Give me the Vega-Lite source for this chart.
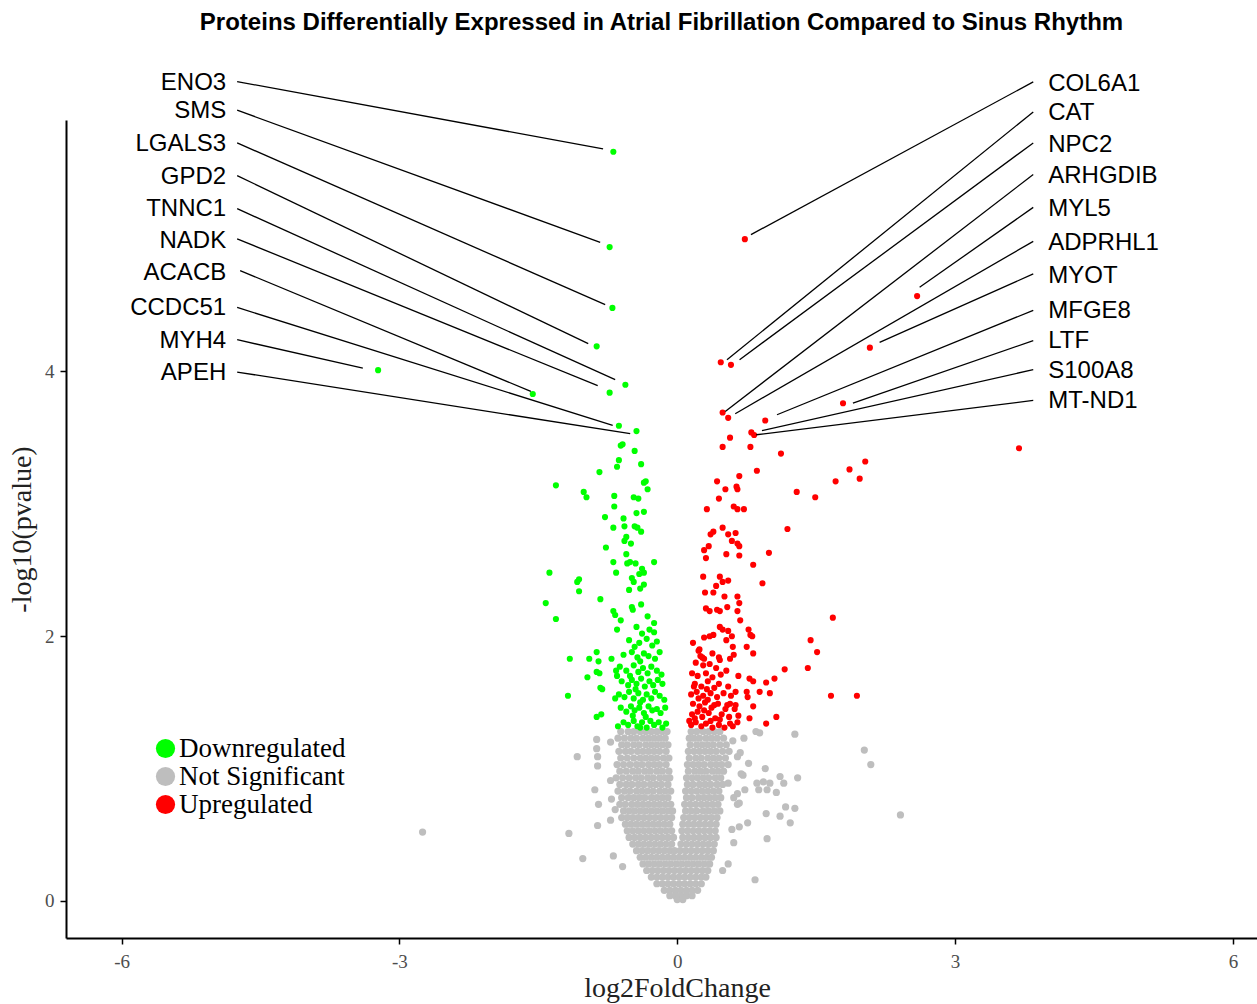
{
"$schema":"https://vega.github.io/schema/vega-lite/v6.json",
"width":1191,"height":818,
"autosize":{"type":"none"},
"padding":{"left":66,"top":120,"right":0,"bottom":66},
"background":"white",
"title":{"text":"Proteins Differentially Expressed in Atrial Fibrillation Compared to Sinus Rhythm","font":"Liberation Sans","fontWeight":"bold","fontSize":24,"color":"black","anchor":"middle","baseline":"alphabetic","offset":17},
"config":{"view":{"stroke":null},
"axis":{"grid":false,"domainColor":"black","domainWidth":2,"tickColor":"black","tickWidth":1.5,"tickSize":6,"labelFont":"Liberation Serif","labelFontSize":19,"labelColor":"#4D4D4D","titleFont":"Liberation Serif","titleFontSize":28,"titleFontWeight":"normal","titleColor":"#222222"},
"legend":{"orient":"none","legendX":86,"legendY":615,"title":null,"symbolType":"circle","symbolSize":370,"symbolOpacity":1,"symbolStrokeWidth":0,"labelFont":"Liberation Serif","labelFontSize":27,"labelColor":"black","labelOffset":0,"labelLimit":0,"rowPadding":0,"padding":0}},
"datasets":{
"ns":[{"x":-1.08,"y":1.09},{"x":-0.87,"y":1.22},{"x":-0.87,"y":1.15},{"x":-0.86,"y":1.09},{"x":-0.86,"y":1.02},{"x":-0.89,"y":0.84},{"x":-0.85,"y":0.73},{"x":-0.86,"y":0.57},{"x":-1.17,"y":0.51},{"x":-1.02,"y":0.32},{"x":-0.69,"y":0.34},{"x":-0.59,"y":0.26},{"x":-0.72,"y":0.61},{"x":-0.71,"y":0.77},{"x":-0.67,"y":0.69},{"x":-0.72,"y":0.91},{"x":-0.72,"y":1.20},{"x":-2.75,"y":0.52},{"x":1.27,"y":1.26},{"x":2.02,"y":1.14},{"x":2.09,"y":1.03},{"x":0.95,"y":1.00},{"x":0.77,"y":1.04},{"x":1.11,"y":0.94},{"x":1.15,"y":0.89},{"x":1.30,"y":0.93},{"x":0.86,"y":0.89},{"x":0.93,"y":0.90},{"x":1.00,"y":0.89},{"x":0.88,"y":0.84},{"x":0.97,"y":0.84},{"x":1.07,"y":0.82},{"x":0.73,"y":0.84},{"x":0.65,"y":0.81},{"x":0.61,"y":0.78},{"x":0.67,"y":0.74},{"x":0.65,"y":0.73},{"x":1.17,"y":0.71},{"x":1.27,"y":0.70},{"x":0.96,"y":0.66},{"x":1.11,"y":0.64},{"x":1.22,"y":0.59},{"x":0.76,"y":0.59},{"x":0.67,"y":0.56},{"x":0.59,"y":0.54},{"x":0.97,"y":0.47},{"x":0.61,"y":0.44},{"x":0.55,"y":0.28},{"x":0.49,"y":0.23},{"x":0.84,"y":0.16},{"x":2.41,"y":0.65},{"x":0.85,"y":1.28},{"x":0.89,"y":1.27},{"x":0.72,"y":1.23},{"x":0.60,"y":1.21},{"x":0.68,"y":1.12},{"x":0.65,"y":1.09},{"x":0.69,"y":0.96},{"x":0.71,"y":0.95},{"x":0.55,"y":0.89},
{"x":-0.61,"y":1.28},{"x":-0.53,"y":1.28},{"x":-0.47,"y":1.28},{"x":-0.40,"y":1.28},{"x":-0.34,"y":1.28},{"x":-0.28,"y":1.28},{"x":-0.22,"y":1.28},{"x":-0.16,"y":1.28},{"x":-0.11,"y":1.28},{"x":0.15,"y":1.28},{"x":0.21,"y":1.28},{"x":0.28,"y":1.28},{"x":0.34,"y":1.28},{"x":0.40,"y":1.28},{"x":0.46,"y":1.28},
{"x":-0.64,"y":1.23},{"x":-0.57,"y":1.23},{"x":-0.50,"y":1.23},{"x":-0.44,"y":1.23},{"x":-0.37,"y":1.23},{"x":-0.31,"y":1.23},{"x":-0.25,"y":1.23},{"x":-0.19,"y":1.23},{"x":-0.13,"y":1.23},{"x":0.13,"y":1.23},{"x":0.18,"y":1.23},{"x":0.24,"y":1.23},{"x":0.31,"y":1.23},{"x":0.37,"y":1.23},{"x":0.43,"y":1.23},{"x":0.50,"y":1.23},
{"x":-0.60,"y":1.18},{"x":-0.54,"y":1.18},{"x":-0.47,"y":1.18},{"x":-0.41,"y":1.18},{"x":-0.34,"y":1.18},{"x":-0.28,"y":1.18},{"x":-0.22,"y":1.18},{"x":-0.16,"y":1.18},{"x":-0.10,"y":1.18},{"x":0.14,"y":1.18},{"x":0.21,"y":1.18},{"x":0.27,"y":1.18},{"x":0.33,"y":1.18},{"x":0.39,"y":1.18},{"x":0.46,"y":1.18},{"x":0.53,"y":1.18},
{"x":-0.63,"y":1.13},{"x":-0.56,"y":1.13},{"x":-0.50,"y":1.13},{"x":-0.43,"y":1.13},{"x":-0.37,"y":1.13},{"x":-0.31,"y":1.13},{"x":-0.25,"y":1.13},{"x":-0.19,"y":1.13},{"x":-0.12,"y":1.13},{"x":0.12,"y":1.13},{"x":0.18,"y":1.13},{"x":0.24,"y":1.13},{"x":0.30,"y":1.13},{"x":0.36,"y":1.13},{"x":0.42,"y":1.13},{"x":0.49,"y":1.13},{"x":0.56,"y":1.13},
{"x":-0.61,"y":1.08},{"x":-0.54,"y":1.08},{"x":-0.47,"y":1.08},{"x":-0.40,"y":1.08},{"x":-0.34,"y":1.08},{"x":-0.28,"y":1.08},{"x":-0.22,"y":1.08},{"x":-0.15,"y":1.08},{"x":-0.09,"y":1.08},{"x":0.13,"y":1.08},{"x":0.20,"y":1.08},{"x":0.26,"y":1.08},{"x":0.33,"y":1.08},{"x":0.39,"y":1.08},{"x":0.45,"y":1.08},{"x":0.52,"y":1.08},
{"x":-0.65,"y":1.03},{"x":-0.58,"y":1.03},{"x":-0.51,"y":1.03},{"x":-0.44,"y":1.03},{"x":-0.38,"y":1.03},{"x":-0.31,"y":1.03},{"x":-0.25,"y":1.03},{"x":-0.19,"y":1.03},{"x":-0.12,"y":1.03},{"x":0.11,"y":1.03},{"x":0.17,"y":1.03},{"x":0.23,"y":1.03},{"x":0.29,"y":1.03},{"x":0.36,"y":1.03},{"x":0.42,"y":1.03},{"x":0.48,"y":1.03},{"x":0.55,"y":1.03},
{"x":-0.62,"y":0.98},{"x":-0.55,"y":0.98},{"x":-0.48,"y":0.98},{"x":-0.42,"y":0.98},{"x":-0.35,"y":0.98},{"x":-0.29,"y":0.98},{"x":-0.22,"y":0.98},{"x":-0.16,"y":0.98},{"x":-0.09,"y":0.98},{"x":0.12,"y":0.98},{"x":0.19,"y":0.98},{"x":0.25,"y":0.98},{"x":0.31,"y":0.98},{"x":0.38,"y":0.98},{"x":0.44,"y":0.98},{"x":0.50,"y":0.98},
{"x":-0.66,"y":0.93},{"x":-0.59,"y":0.93},{"x":-0.52,"y":0.93},{"x":-0.45,"y":0.93},{"x":-0.39,"y":0.93},{"x":-0.32,"y":0.93},{"x":-0.26,"y":0.93},{"x":-0.19,"y":0.93},{"x":-0.13,"y":0.93},{"x":-0.08,"y":0.93},{"x":0.10,"y":0.93},{"x":0.16,"y":0.93},{"x":0.22,"y":0.93},{"x":0.28,"y":0.93},{"x":0.34,"y":0.93},{"x":0.41,"y":0.93},{"x":0.47,"y":0.93},
{"x":-0.62,"y":0.88},{"x":-0.55,"y":0.88},{"x":-0.49,"y":0.88},{"x":-0.42,"y":0.88},{"x":-0.36,"y":0.88},{"x":-0.29,"y":0.88},{"x":-0.23,"y":0.88},{"x":-0.17,"y":0.88},{"x":-0.10,"y":0.88},{"x":0.11,"y":0.88},{"x":0.17,"y":0.88},{"x":0.24,"y":0.88},{"x":0.30,"y":0.88},{"x":0.36,"y":0.88},{"x":0.43,"y":0.88},{"x":0.49,"y":0.88},
{"x":-0.64,"y":0.83},{"x":-0.57,"y":0.83},{"x":-0.51,"y":0.83},{"x":-0.44,"y":0.83},{"x":-0.38,"y":0.83},{"x":-0.32,"y":0.83},{"x":-0.26,"y":0.83},{"x":-0.19,"y":0.83},{"x":-0.13,"y":0.83},{"x":-0.07,"y":0.83},{"x":0.09,"y":0.83},{"x":0.15,"y":0.83},{"x":0.21,"y":0.83},{"x":0.27,"y":0.83},{"x":0.33,"y":0.83},{"x":0.39,"y":0.83},{"x":0.45,"y":0.83},
{"x":-0.60,"y":0.78},{"x":-0.53,"y":0.78},{"x":-0.47,"y":0.78},{"x":-0.41,"y":0.78},{"x":-0.35,"y":0.78},{"x":-0.28,"y":0.78},{"x":-0.22,"y":0.78},{"x":-0.16,"y":0.78},{"x":-0.10,"y":0.78},{"x":0.10,"y":0.78},{"x":0.16,"y":0.78},{"x":0.23,"y":0.78},{"x":0.29,"y":0.78},{"x":0.35,"y":0.78},{"x":0.41,"y":0.78},{"x":0.47,"y":0.78},
{"x":-0.62,"y":0.73},{"x":-0.56,"y":0.73},{"x":-0.49,"y":0.73},{"x":-0.43,"y":0.73},{"x":-0.37,"y":0.73},{"x":-0.31,"y":0.73},{"x":-0.25,"y":0.73},{"x":-0.19,"y":0.73},{"x":-0.13,"y":0.73},{"x":-0.07,"y":0.73},{"x":0.08,"y":0.73},{"x":0.14,"y":0.73},{"x":0.20,"y":0.73},{"x":0.26,"y":0.73},{"x":0.32,"y":0.73},{"x":0.38,"y":0.73},{"x":0.44,"y":0.73},
{"x":-0.58,"y":0.68},{"x":-0.52,"y":0.68},{"x":-0.46,"y":0.68},{"x":-0.40,"y":0.68},{"x":-0.34,"y":0.68},{"x":-0.28,"y":0.68},{"x":-0.22,"y":0.68},{"x":-0.16,"y":0.68},{"x":-0.10,"y":0.68},{"x":-0.05,"y":0.68},{"x":0.09,"y":0.68},{"x":0.15,"y":0.68},{"x":0.21,"y":0.68},{"x":0.28,"y":0.68},{"x":0.34,"y":0.68},{"x":0.40,"y":0.68},{"x":0.46,"y":0.68},
{"x":-0.60,"y":0.63},{"x":-0.54,"y":0.63},{"x":-0.48,"y":0.63},{"x":-0.42,"y":0.63},{"x":-0.36,"y":0.63},{"x":-0.30,"y":0.63},{"x":-0.24,"y":0.63},{"x":-0.18,"y":0.63},{"x":-0.12,"y":0.63},{"x":-0.06,"y":0.63},{"x":0.07,"y":0.63},{"x":0.13,"y":0.63},{"x":0.19,"y":0.63},{"x":0.25,"y":0.63},{"x":0.31,"y":0.63},{"x":0.37,"y":0.63},{"x":0.43,"y":0.63},
{"x":-0.56,"y":0.58},{"x":-0.50,"y":0.58},{"x":-0.44,"y":0.58},{"x":-0.38,"y":0.58},{"x":-0.32,"y":0.58},{"x":-0.26,"y":0.58},{"x":-0.20,"y":0.58},{"x":-0.14,"y":0.58},{"x":-0.08,"y":0.58},{"x":0.06,"y":0.58},{"x":0.12,"y":0.58},{"x":0.18,"y":0.58},{"x":0.24,"y":0.58},{"x":0.30,"y":0.58},{"x":0.36,"y":0.58},{"x":0.42,"y":0.58},
{"x":-0.54,"y":0.53},{"x":-0.48,"y":0.53},{"x":-0.42,"y":0.53},{"x":-0.36,"y":0.53},{"x":-0.30,"y":0.53},{"x":-0.24,"y":0.53},{"x":-0.18,"y":0.53},{"x":-0.12,"y":0.53},{"x":-0.06,"y":0.53},{"x":0.05,"y":0.53},{"x":0.11,"y":0.53},{"x":0.17,"y":0.53},{"x":0.23,"y":0.53},{"x":0.29,"y":0.53},{"x":0.35,"y":0.53},{"x":0.41,"y":0.53},
{"x":-0.52,"y":0.48},{"x":-0.46,"y":0.48},{"x":-0.40,"y":0.48},{"x":-0.34,"y":0.48},{"x":-0.28,"y":0.48},{"x":-0.22,"y":0.48},{"x":-0.16,"y":0.48},{"x":-0.10,"y":0.48},{"x":-0.04,"y":0.48},{"x":0.06,"y":0.48},{"x":0.12,"y":0.48},{"x":0.18,"y":0.48},{"x":0.24,"y":0.48},{"x":0.30,"y":0.48},{"x":0.36,"y":0.48},{"x":0.42,"y":0.48},
{"x":-0.48,"y":0.43},{"x":-0.42,"y":0.43},{"x":-0.36,"y":0.43},{"x":-0.30,"y":0.43},{"x":-0.24,"y":0.43},{"x":-0.18,"y":0.43},{"x":-0.12,"y":0.43},{"x":-0.06,"y":0.43},{"x":0.04,"y":0.43},{"x":0.10,"y":0.43},{"x":0.16,"y":0.43},{"x":0.22,"y":0.43},{"x":0.28,"y":0.43},{"x":0.34,"y":0.43},{"x":0.40,"y":0.43},
{"x":-0.44,"y":0.38},{"x":-0.38,"y":0.38},{"x":-0.32,"y":0.38},{"x":-0.26,"y":0.38},{"x":-0.20,"y":0.38},{"x":-0.14,"y":0.38},{"x":-0.08,"y":0.38},{"x":-0.03,"y":0.38},{"x":0.03,"y":0.38},{"x":0.09,"y":0.38},{"x":0.15,"y":0.38},{"x":0.21,"y":0.38},{"x":0.27,"y":0.38},{"x":0.33,"y":0.38},{"x":0.39,"y":0.38},
{"x":-0.40,"y":0.33},{"x":-0.34,"y":0.33},{"x":-0.28,"y":0.33},{"x":-0.22,"y":0.33},{"x":-0.16,"y":0.33},{"x":-0.10,"y":0.33},{"x":-0.04,"y":0.33},{"x":0.02,"y":0.33},{"x":0.08,"y":0.33},{"x":0.14,"y":0.33},{"x":0.20,"y":0.33},{"x":0.26,"y":0.33},{"x":0.32,"y":0.33},{"x":0.37,"y":0.33},
{"x":-0.37,"y":0.28},{"x":-0.31,"y":0.28},{"x":-0.25,"y":0.28},{"x":-0.19,"y":0.28},{"x":-0.13,"y":0.28},{"x":-0.07,"y":0.28},{"x":-0.01,"y":0.28},{"x":0.05,"y":0.28},{"x":0.11,"y":0.28},{"x":0.17,"y":0.28},{"x":0.23,"y":0.28},{"x":0.29,"y":0.28},{"x":0.35,"y":0.28},
{"x":-0.33,"y":0.23},{"x":-0.27,"y":0.23},{"x":-0.21,"y":0.23},{"x":-0.15,"y":0.23},{"x":-0.09,"y":0.23},{"x":-0.03,"y":0.23},{"x":0.03,"y":0.23},{"x":0.09,"y":0.23},{"x":0.15,"y":0.23},{"x":0.21,"y":0.23},{"x":0.27,"y":0.23},{"x":0.33,"y":0.23},
{"x":-0.28,"y":0.18},{"x":-0.22,"y":0.18},{"x":-0.16,"y":0.18},{"x":-0.10,"y":0.18},{"x":-0.04,"y":0.18},{"x":0.02,"y":0.18},{"x":0.08,"y":0.18},{"x":0.14,"y":0.18},{"x":0.20,"y":0.18},{"x":0.26,"y":0.18},{"x":0.31,"y":0.18},
{"x":-0.22,"y":0.13},{"x":-0.16,"y":0.13},{"x":-0.10,"y":0.13},{"x":-0.04,"y":0.13},{"x":0.02,"y":0.13},{"x":0.08,"y":0.13},{"x":0.14,"y":0.13},{"x":0.20,"y":0.13},{"x":0.26,"y":0.13},
{"x":-0.14,"y":0.08},{"x":-0.08,"y":0.08},{"x":-0.02,"y":0.08},{"x":0.04,"y":0.08},{"x":0.10,"y":0.08},{"x":0.16,"y":0.08},{"x":0.22,"y":0.08},
{"x":-0.08,"y":0.04},{"x":-0.02,"y":0.04},{"x":0.04,"y":0.04},{"x":0.10,"y":0.04},{"x":0.16,"y":0.04},{"x":0.00,"y":0.01},{"x":0.06,"y":0.01}],
"down":[{"x":-0.69,"y":5.66},{"x":-0.73,"y":4.94},{"x":-0.70,"y":4.48},{"x":-0.87,"y":4.19},{"x":-0.56,"y":3.90},{"x":-0.73,"y":3.84},{"x":-1.56,"y":3.83},{"x":-0.63,"y":3.59},{"x":-3.23,"y":4.01},{"x":-0.44,"y":3.55},
{"x":-0.61,"y":3.44},{"x":-0.59,"y":3.45},{"x":-0.46,"y":3.40},{"x":-0.63,"y":3.33},{"x":-0.65,"y":3.28},{"x":-0.39,"y":3.30},{"x":-0.84,"y":3.24},{"x":-1.31,"y":3.14},{"x":-0.36,"y":3.16},{"x":-0.34,"y":3.17},{"x":-0.32,"y":3.11},{"x":-1.01,"y":3.09},{"x":-0.98,"y":3.05},{"x":-0.68,"y":3.06},{"x":-0.47,"y":3.05},{"x":-0.42,"y":3.04},{"x":-0.68,"y":2.98},{"x":-0.78,"y":2.90},{"x":-0.58,"y":2.89},{"x":-0.44,"y":2.93},{"x":-0.36,"y":2.94},{"x":-0.69,"y":2.82},{"x":-0.57,"y":2.83},{"x":-0.46,"y":2.83},{"x":-0.43,"y":2.82},{"x":-0.39,"y":2.79},{"x":-0.55,"y":2.75},{"x":-0.57,"y":2.72},{"x":-0.50,"y":2.70},{"x":-0.77,"y":2.67},{"x":-0.55,"y":2.62},{"x":-0.69,"y":2.56},{"x":-0.54,"y":2.55},{"x":-0.51,"y":2.56},{"x":-0.45,"y":2.55},{"x":-0.25,"y":2.56},{"x":-0.66,"y":2.48},{"x":-0.38,"y":2.51},{"x":-0.36,"y":2.48},{"x":-0.41,"y":2.47},{"x":-1.38,"y":2.48},{"x":-1.06,"y":2.43},{"x":-1.08,"y":2.41},{"x":-0.49,"y":2.44},{"x":-0.47,"y":2.41},{"x":-0.36,"y":2.39},{"x":-1.06,"y":2.34},{"x":-0.52,"y":2.35},{"x":-0.40,"y":2.36},{"x":-0.83,"y":2.28},{"x":-1.42,"y":2.25},{"x":-0.49,"y":2.22},{"x":-0.48,"y":2.20},{"x":-0.39,"y":2.24},{"x":-0.69,"y":2.19},{"x":-0.67,"y":2.16},{"x":-0.61,"y":2.12},{"x":-1.31,"y":2.13},{"x":-0.32,"y":2.15},{"x":-0.25,"y":2.10},{"x":-0.65,"y":2.05},{"x":-1.16,"y":1.83},{"x":-0.87,"y":1.88},{"x":-0.95,"y":1.83},{"x":-0.85,"y":1.81},{"x":-0.87,"y":1.73},{"x":-0.97,"y":1.69},{"x":-0.84,"y":1.72},{"x":-0.83,"y":1.61},{"x":-0.81,"y":1.60},{"x":-1.18,"y":1.55},{"x":-0.67,"y":1.53},{"x":-0.87,"y":1.39},{"x":-0.82,"y":1.41},{"x":-0.71,"y":1.83},{"x":-0.66,"y":1.74},{"x":-0.65,"y":1.70},
{"x":-0.44,"y":2.07},{"x":-0.30,"y":2.05},{"x":-0.38,"y":2.02},{"x":-0.25,"y":2.03},
{"x":-0.52,"y":1.97},{"x":-0.41,"y":1.95},{"x":-0.33,"y":1.98},{"x":-0.27,"y":1.93},{"x":-0.22,"y":1.96},{"x":-0.46,"y":1.92},
{"x":-0.58,"y":1.86},{"x":-0.49,"y":1.88},{"x":-0.43,"y":1.84},{"x":-0.36,"y":1.87},{"x":-0.31,"y":1.85},{"x":-0.24,"y":1.83},{"x":-0.19,"y":1.88},{"x":-0.40,"y":1.81},
{"x":-0.62,"y":1.77},{"x":-0.55,"y":1.74},{"x":-0.47,"y":1.78},{"x":-0.42,"y":1.73},{"x":-0.37,"y":1.76},{"x":-0.32,"y":1.72},{"x":-0.28,"y":1.77},{"x":-0.22,"y":1.74},{"x":-0.17,"y":1.71},{"x":-0.51,"y":1.70},
{"x":-0.60,"y":1.66},{"x":-0.53,"y":1.63},{"x":-0.49,"y":1.67},{"x":-0.44,"y":1.64},{"x":-0.39,"y":1.68},{"x":-0.35,"y":1.62},{"x":-0.30,"y":1.66},{"x":-0.26,"y":1.63},{"x":-0.21,"y":1.67},{"x":-0.16,"y":1.64},{"x":-0.45,"y":1.60},
{"x":-0.63,"y":1.56},{"x":-0.57,"y":1.54},{"x":-0.52,"y":1.58},{"x":-0.47,"y":1.53},{"x":-0.42,"y":1.57},{"x":-0.37,"y":1.52},{"x":-0.33,"y":1.56},{"x":-0.28,"y":1.53},{"x":-0.24,"y":1.58},{"x":-0.19,"y":1.55},{"x":-0.14,"y":1.52},{"x":-0.40,"y":1.50},
{"x":-0.61,"y":1.46},{"x":-0.55,"y":1.43},{"x":-0.50,"y":1.47},{"x":-0.46,"y":1.44},{"x":-0.41,"y":1.46},{"x":-0.36,"y":1.42},{"x":-0.31,"y":1.47},{"x":-0.27,"y":1.44},{"x":-0.22,"y":1.45},{"x":-0.18,"y":1.42},{"x":-0.13,"y":1.46},{"x":-0.48,"y":1.40},{"x":-0.34,"y":1.39},
{"x":-0.58,"y":1.35},{"x":-0.53,"y":1.33},{"x":-0.47,"y":1.36},{"x":-0.43,"y":1.32},{"x":-0.38,"y":1.35},{"x":-0.33,"y":1.31},{"x":-0.29,"y":1.36},{"x":-0.25,"y":1.33},{"x":-0.20,"y":1.35},{"x":-0.16,"y":1.31},{"x":-0.12,"y":1.34},{"x":-0.40,"y":1.31},{"x":-0.64,"y":1.32}],
"up":[{"x":0.73,"y":5.00},{"x":0.47,"y":4.07},{"x":0.58,"y":4.05},{"x":0.49,"y":3.69},{"x":2.59,"y":4.57},{"x":0.55,"y":3.65},{"x":2.08,"y":4.18},{"x":0.95,"y":3.63},{"x":1.79,"y":3.76},{"x":0.80,"y":3.54},{"x":0.83,"y":3.52},
{"x":0.57,"y":3.50},{"x":0.49,"y":3.43},{"x":0.79,"y":3.43},{"x":1.12,"y":3.38},{"x":3.69,"y":3.42},{"x":2.03,"y":3.32},{"x":0.86,"y":3.25},{"x":0.67,"y":3.21},{"x":1.86,"y":3.26},{"x":1.97,"y":3.19},{"x":1.71,"y":3.17},{"x":0.43,"y":3.17},{"x":0.64,"y":3.13},{"x":0.65,"y":3.11},{"x":0.52,"y":3.11},{"x":1.29,"y":3.09},{"x":1.49,"y":3.05},{"x":0.45,"y":3.04},{"x":0.61,"y":2.98},{"x":0.65,"y":2.96},{"x":0.72,"y":2.96},{"x":0.32,"y":2.96},{"x":0.49,"y":2.82},{"x":0.39,"y":2.79},{"x":0.36,"y":2.77},{"x":0.55,"y":2.77},{"x":0.63,"y":2.78},{"x":1.19,"y":2.81},{"x":0.59,"y":2.72},{"x":0.65,"y":2.70},{"x":0.67,"y":2.68},{"x":0.29,"y":2.65},{"x":0.34,"y":2.68},{"x":0.31,"y":2.59},{"x":0.53,"y":2.62},{"x":0.67,"y":2.61},{"x":0.99,"y":2.63},{"x":0.82,"y":2.54},{"x":0.28,"y":2.45},{"x":0.46,"y":2.45},{"x":0.49,"y":2.41},{"x":0.55,"y":2.42},{"x":0.42,"y":2.38},{"x":0.92,"y":2.40},{"x":0.30,"y":2.33},{"x":0.39,"y":2.33},{"x":0.51,"y":2.30},{"x":0.65,"y":2.30},{"x":0.67,"y":2.25},{"x":0.31,"y":2.21},{"x":0.35,"y":2.19},{"x":0.43,"y":2.20},{"x":0.46,"y":2.19},{"x":0.54,"y":2.22},{"x":0.65,"y":2.19},{"x":1.68,"y":2.14},{"x":0.68,"y":2.12},{"x":0.46,"y":2.07},{"x":0.49,"y":2.05},{"x":0.55,"y":2.04},{"x":0.29,"y":1.99},{"x":0.35,"y":2.00},{"x":0.39,"y":2.01},{"x":0.77,"y":2.05},{"x":0.79,"y":2.01},{"x":0.81,"y":2.00},{"x":0.59,"y":2.00},{"x":0.53,"y":1.97},{"x":1.44,"y":1.97},{"x":0.75,"y":1.92},{"x":0.60,"y":1.92},{"x":1.51,"y":1.88},{"x":0.82,"y":1.87},{"x":0.23,"y":1.89},{"x":0.25,"y":1.85},{"x":0.29,"y":1.83},{"x":0.38,"y":1.87},{"x":0.45,"y":1.84},{"x":0.46,"y":1.82},{"x":0.57,"y":1.83},{"x":0.61,"y":1.86},{"x":1.16,"y":1.75},{"x":1.41,"y":1.76},{"x":0.66,"y":1.70},{"x":1.05,"y":1.68},{"x":0.96,"y":1.65},{"x":0.78,"y":1.68},{"x":0.82,"y":1.66},{"x":1.00,"y":1.57},{"x":0.89,"y":1.58},{"x":0.75,"y":1.58},{"x":0.76,"y":1.54},{"x":0.63,"y":1.58},{"x":1.66,"y":1.55},{"x":1.94,"y":1.55},{"x":0.57,"y":1.49},{"x":0.63,"y":1.48},{"x":0.82,"y":1.47},{"x":1.07,"y":1.39},{"x":0.78,"y":1.38},{"x":0.65,"y":1.35},{"x":0.57,"y":1.34},{"x":0.96,"y":1.34},
{"x":0.17,"y":1.95},{"x":0.24,"y":1.90},{"x":0.20,"y":1.80},{"x":0.28,"y":1.78},{"x":0.35,"y":1.79},{"x":0.42,"y":1.76},{"x":0.16,"y":1.72},{"x":0.22,"y":1.70},{"x":0.31,"y":1.72},{"x":0.38,"y":1.69},{"x":0.47,"y":1.71},{"x":0.53,"y":1.74},{"x":0.19,"y":1.64},{"x":0.26,"y":1.62},{"x":0.33,"y":1.66},{"x":0.40,"y":1.61},{"x":0.45,"y":1.64},{"x":0.55,"y":1.62},{"x":0.15,"y":1.56},{"x":0.21,"y":1.58},{"x":0.28,"y":1.55},{"x":0.36,"y":1.57},{"x":0.43,"y":1.54},{"x":0.50,"y":1.57},{"x":0.58,"y":1.55},{"x":0.17,"y":1.49},{"x":0.24,"y":1.47},{"x":0.30,"y":1.50},{"x":0.37,"y":1.46},{"x":0.44,"y":1.49},{"x":0.52,"y":1.45},{"x":0.16,"y":1.41},{"x":0.22,"y":1.43},{"x":0.27,"y":1.39},{"x":0.34,"y":1.42},{"x":0.41,"y":1.38},{"x":0.48,"y":1.41},{"x":0.56,"y":1.39},{"x":0.15,"y":1.33},{"x":0.20,"y":1.35},{"x":0.26,"y":1.32},{"x":0.31,"y":1.34},{"x":0.38,"y":1.31},{"x":0.45,"y":1.33},{"x":0.51,"y":1.31},{"x":0.60,"y":1.32},{"x":0.66,"y":1.40},{"x":0.23,"y":1.53},{"x":0.32,"y":1.60},{"x":0.19,"y":1.38},{"x":0.36,"y":1.36},{"x":0.29,"y":1.44},{"x":0.40,"y":1.48},{"x":0.18,"y":1.62},{"x":0.27,"y":1.84},{"x":0.33,"y":1.52},{"x":0.46,"y":1.37},{"x":0.54,"y":1.48},{"x":0.13,"y":1.36},{"x":0.62,"y":1.45}],
"labels":[
{"name":"ENO3","side":"L","tx":-4.87,"ty":6.183,"sx":-4.752,"sy":6.190,"ex":-0.801,"ey":5.682},
{"name":"SMS","side":"L","tx":-4.87,"ty":5.966,"sx":-4.752,"sy":5.974,"ex":-0.832,"ey":4.976},
{"name":"LGALS3","side":"L","tx":-4.87,"ty":5.722,"sx":-4.752,"sy":5.727,"ex":-0.778,"ey":4.505},
{"name":"GPD2","side":"L","tx":-4.87,"ty":5.470,"sx":-4.752,"sy":5.480,"ex":-0.961,"ey":4.210},
{"name":"TNNC1","side":"L","tx":-4.87,"ty":5.228,"sx":-4.752,"sy":5.230,"ex":-0.670,"ey":3.938},
{"name":"NADK","side":"L","tx":-4.87,"ty":4.983,"sx":-4.752,"sy":5.002,"ex":-0.859,"ey":3.893},
{"name":"ACACB","side":"L","tx":-4.87,"ty":4.744,"sx":-4.720,"sy":4.762,"ex":-1.581,"ey":3.850},
{"name":"CCDC51","side":"L","tx":-4.87,"ty":4.480,"sx":-4.752,"sy":4.484,"ex":-0.697,"ey":3.593},
{"name":"MYH4","side":"L","tx":-4.87,"ty":4.233,"sx":-4.752,"sy":4.240,"ex":-3.395,"ey":4.026},
{"name":"APEH","side":"L","tx":-4.87,"ty":3.989,"sx":-4.752,"sy":3.996,"ex":-0.508,"ey":3.530},
{"name":"COL6A1","side":"R","tx":4.006,"ty":6.175,"sx":3.844,"sy":6.188,"ex":0.796,"ey":5.034},
{"name":"CAT","side":"R","tx":4.006,"ty":5.954,"sx":3.844,"sy":5.961,"ex":0.537,"ey":4.089},
{"name":"NPC2","side":"R","tx":4.006,"ty":5.714,"sx":3.844,"sy":5.727,"ex":0.673,"ey":4.089},
{"name":"ARHGDIB","side":"R","tx":4.006,"ty":5.475,"sx":3.844,"sy":5.488,"ex":0.518,"ey":3.698},
{"name":"MYL5","side":"R","tx":4.006,"ty":5.228,"sx":3.844,"sy":5.240,"ex":2.617,"ey":4.636},
{"name":"ADPRHL1","side":"R","tx":4.006,"ty":4.971,"sx":3.844,"sy":4.983,"ex":0.626,"ey":3.681},
{"name":"MYOT","side":"R","tx":4.006,"ty":4.724,"sx":3.844,"sy":4.737,"ex":2.185,"ey":4.220},
{"name":"MFGE8","side":"R","tx":4.006,"ty":4.454,"sx":3.844,"sy":4.462,"ex":1.077,"ey":3.673},
{"name":"LTF","side":"R","tx":4.006,"ty":4.233,"sx":3.844,"sy":4.233,"ex":1.897,"ey":3.761},
{"name":"S100A8","side":"R","tx":4.006,"ty":4.001,"sx":3.844,"sy":4.014,"ex":0.915,"ey":3.553},
{"name":"MT-ND1","side":"R","tx":4.006,"ty":3.774,"sx":3.844,"sy":3.781,"ex":0.853,"ey":3.522}]
},
"layer":[
{"data":{"name":"ns"},"mark":{"type":"point","filled":true,"shape":"circle","size":52,"opacity":1},
 "encoding":{
  "x":{"field":"x","type":"quantitative","title":"log2FoldChange","scale":{"domain":[-6.6,6.26],"nice":false,"zero":false},
       "axis":{"values":[-6,-3,0,3,6],"labelExpr":"'' + datum.value","labelPadding":8,"titleX":611,"titleY":50,"titleAlign":"center","titleBaseline":"middle"}},
  "y":{"field":"y","type":"quantitative","title":"-log10(pvalue)","scale":{"domain":[-0.28,5.9],"nice":false,"zero":false},
       "axis":{"values":[0,2,4],"labelExpr":"'' + datum.value","labelPadding":6,"titleX":-44,"titleY":409,"titleAngle":-90,"titleAlign":"center","titleBaseline":"middle"}},
  "color":{"datum":"Not Significant","type":"nominal","scale":{"domain":["Downregulated","Not Significant","Upregulated"],"range":["#00FF00","#BEBEBE","#FF0000"]}}}},
{"data":{"name":"down"},"mark":{"type":"point","filled":true,"shape":"circle","size":38,"opacity":1},
 "encoding":{
  "x":{"field":"x","type":"quantitative","title":"log2FoldChange"},
  "y":{"field":"y","type":"quantitative","title":"-log10(pvalue)"},
  "color":{"datum":"Downregulated","type":"nominal"}}},
{"data":{"name":"up"},"mark":{"type":"point","filled":true,"shape":"circle","size":38,"opacity":1},
 "encoding":{
  "x":{"field":"x","type":"quantitative","title":"log2FoldChange"},
  "y":{"field":"y","type":"quantitative","title":"-log10(pvalue)"},
  "color":{"datum":"Upregulated","type":"nominal"}}},
{"data":{"name":"labels"},"mark":{"type":"rule","color":"black","strokeWidth":1.3,"clip":false},
 "encoding":{
  "x":{"field":"sx","type":"quantitative","title":"log2FoldChange"},
  "y":{"field":"sy","type":"quantitative","title":"-log10(pvalue)"},
  "x2":{"field":"ex"},"y2":{"field":"ey"}}},
{"data":{"name":"labels"},"transform":[{"filter":"datum.side == 'L'"}],
 "mark":{"type":"text","align":"right","baseline":"middle","font":"Liberation Sans","fontSize":24,"color":"black","clip":false},
 "encoding":{
  "x":{"field":"tx","type":"quantitative","title":"log2FoldChange"},
  "y":{"field":"ty","type":"quantitative","title":"-log10(pvalue)"},
  "text":{"field":"name"}}},
{"data":{"name":"labels"},"transform":[{"filter":"datum.side == 'R'"}],
 "mark":{"type":"text","align":"left","baseline":"middle","font":"Liberation Sans","fontSize":24,"color":"black","clip":false},
 "encoding":{
  "x":{"field":"tx","type":"quantitative","title":"log2FoldChange"},
  "y":{"field":"ty","type":"quantitative","title":"-log10(pvalue)"},
  "text":{"field":"name"}}}
]
}
